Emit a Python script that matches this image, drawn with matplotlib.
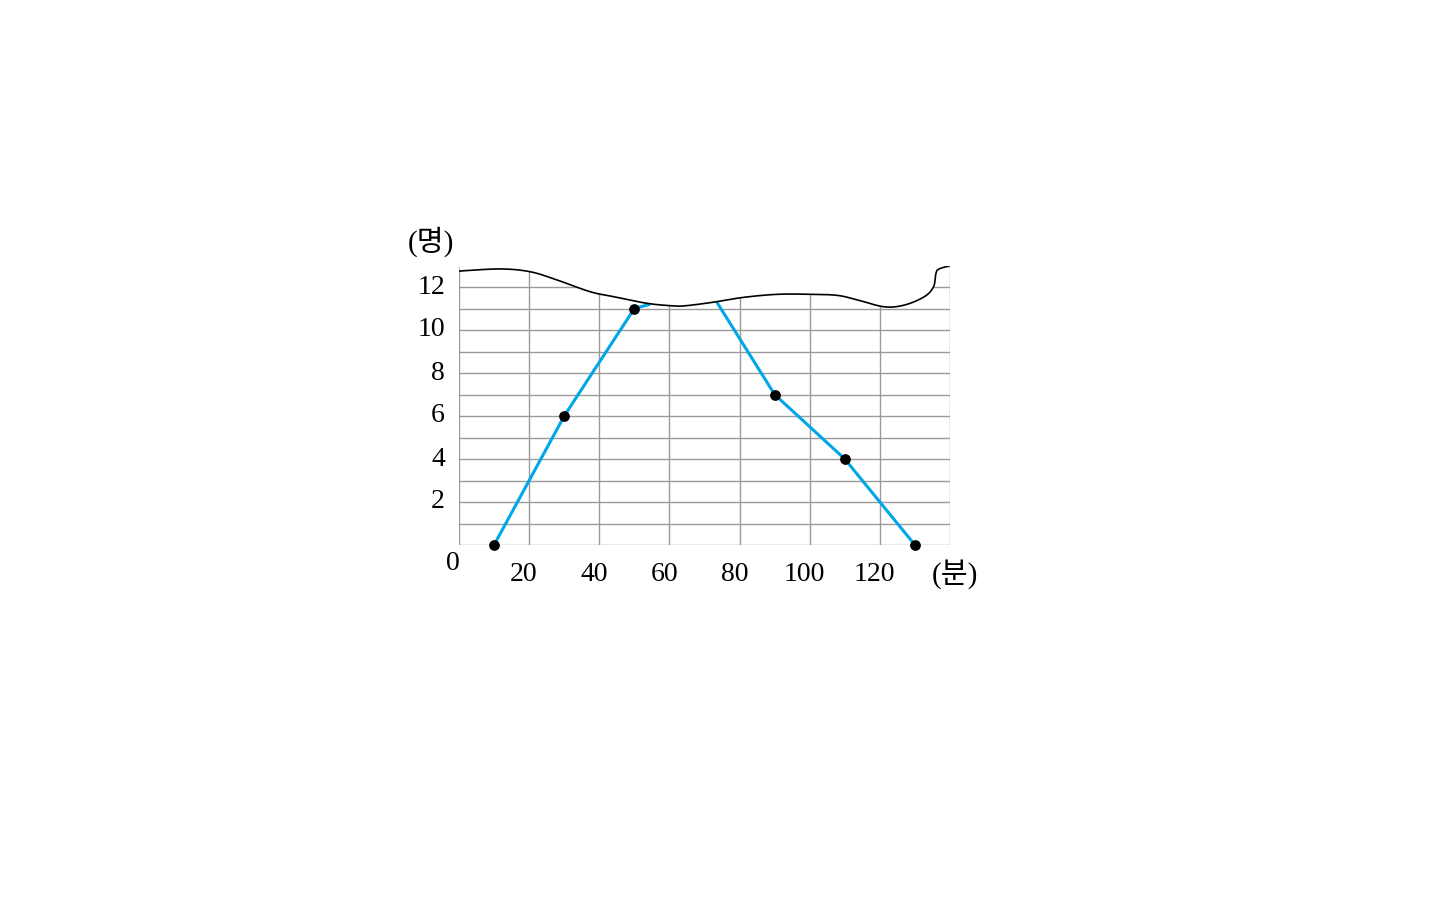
import numpy as np
import matplotlib.pyplot as plt

plt.rcParams['font.family'] = ['Liberation Serif', 'Noto Sans CJK KR']

# data
minutes_up = [10, 30, 50]
people_up = [0, 6, 11]
minutes_down = [90, 110, 130]
people_down = [7, 4, 0]
# where the lines disappear under the torn edge
up_tail = (54.5, 11.2)
down_head = (73.5, 11.3)

x_ticks = [20, 40, 60, 80, 100, 120]
y_ticks = [2, 4, 6, 8, 10, 12]

# torn edge of the paper
edge_x = [0, 11.7, 20.3, 27.9, 37.4, 44.1, 53.6, 61.2, 64.1, 68.9, 73.6, 81.2,
          90.8, 100.3, 107.9, 113.6, 121.2, 127, 132.7, 135.3, 136, 136.9, 140]
edge_y = [12.74, 12.84, 12.71, 12.33, 11.78, 11.55, 11.24, 11.12, 11.12, 11.21,
          11.32, 11.52, 11.66, 11.66, 11.61, 11.40, 11.08, 11.16, 11.55, 12.01,
          12.64, 12.84, 12.99]


def smooth(xs, ys, n=20):
    # catmull-rom through the traced points
    p = np.column_stack([xs, ys])
    p = np.vstack([p[0], p, p[-1]])
    out = []
    t = np.linspace(0, 1, n, endpoint=False)[:, None]
    for i in range(1, len(p) - 2):
        p0, p1, p2, p3 = p[i - 1], p[i], p[i + 1], p[i + 2]
        seg = 0.5 * ((2 * p1) + (-p0 + p2) * t + (2 * p0 - 5 * p1 + 4 * p2 - p3) * t**2
                     + (-p0 + 3 * p1 - 3 * p2 + p3) * t**3)
        out.append(seg)
    out.append(p[-2][None, :])
    out = np.vstack(out)
    return out[:, 0], out[:, 1]


fig = plt.figure(figsize=(14.4, 9), dpi=100)
ax = fig.add_axes([459/1440, 355/900, 491/1440, 13*21.5/900])
ax.set_xlim(0, 140)
ax.set_ylim(0, 13)
ax.axis('off')

grid_c = '#9a9a9a'
for y in range(0, 14):
    ax.plot([0, 140], [y, y], color=grid_c, lw=1, zorder=1)
for x in [0] + x_ticks + [140]:
    ax.plot([x, x], [0, 13], color=grid_c, lw=1, zorder=1)

blue = '#00a6e6'
ax.plot(minutes_up + [up_tail[0]], people_up + [up_tail[1]], color=blue, lw=2.2, zorder=2,
        solid_capstyle='butt')
ax.plot([down_head[0]] + minutes_down, [down_head[1]] + people_down, color=blue, lw=2.2,
        zorder=2, solid_capstyle='butt')
ax.scatter(minutes_up + minutes_down, people_up + people_down, s=45, color='black',
           zorder=5, clip_on=False)

sx, sy = smooth(edge_x, edge_y)
ax.fill_between(sx, sy, 14, color='white', zorder=3, lw=0)
ax.plot(sx, sy, color='black', lw=1.2, zorder=4)

fs = 20
for v in x_ticks:
    ax.text(v - 1.5, -1.35, str(v), ha='center', va='center', fontsize=fs)
for v in y_ticks:
    ax.text(-4, v, str(v), ha='right', va='center', fontsize=fs)
ax.text(-1.8, -0.85, '0', ha='center', va='center', fontsize=fs)
ax.text(-8, 14.1, '(명)', ha='center', va='center', fontsize=21)
ax.text(141.3, -1.35, '(분)', ha='center', va='center', fontsize=21)

fig.savefig('out.png', dpi=100)
